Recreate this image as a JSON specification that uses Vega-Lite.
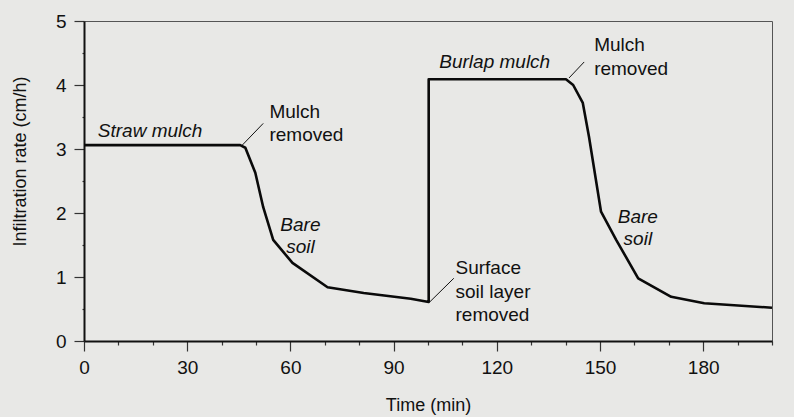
{
  "$schema": "https://vega.github.io/schema/vega-lite/v6.json",
  "width": 688,
  "height": 320,
  "autosize": "none",
  "padding": {"left": 84, "top": 21, "right": 22, "bottom": 76},
  "background": "#e8e8e6",
  "config": {
    "view": {"stroke": "#555555", "strokeWidth": 1},
    "font": "Liberation Sans",
    "axis": {
      "domainColor": "#111111",
      "domainWidth": 2,
      "tickColor": "#333333",
      "tickWidth": 1.2,
      "labelColor": "#111111",
      "titleColor": "#111111",
      "labelFontSize": 19,
      "titleFontSize": 18,
      "titleFontWeight": "normal",
      "grid": false
    }
  },
  "datasets": {
    "curve": [
      {"x": 0, "y": 3.06, "ord": 1},
      {"x": 45.4, "y": 3.06, "ord": 2},
      {"x": 46.9, "y": 3.02, "ord": 3},
      {"x": 49.8, "y": 2.63, "ord": 4},
      {"x": 52.1, "y": 2.09, "ord": 5},
      {"x": 55, "y": 1.58, "ord": 6},
      {"x": 60.6, "y": 1.22, "ord": 7},
      {"x": 70.8, "y": 0.84, "ord": 8},
      {"x": 81.3, "y": 0.75, "ord": 9},
      {"x": 95, "y": 0.66, "ord": 10},
      {"x": 100.2, "y": 0.61, "ord": 11},
      {"x": 100.2, "y": 4.09, "ord": 12},
      {"x": 140.1, "y": 4.09, "ord": 13},
      {"x": 142.2, "y": 4.0, "ord": 14},
      {"x": 145, "y": 3.72, "ord": 15},
      {"x": 146.8, "y": 3.19, "ord": 16},
      {"x": 150.3, "y": 2.02, "ord": 17},
      {"x": 154.7, "y": 1.58, "ord": 18},
      {"x": 161.1, "y": 0.98, "ord": 19},
      {"x": 170.7, "y": 0.69, "ord": 20},
      {"x": 180.3, "y": 0.59, "ord": 21},
      {"x": 200, "y": 0.52, "ord": 22}
    ],
    "leaders": [
      {"x": 46, "y": 3.06, "x2": 52.1, "y2": 3.4},
      {"x": 141, "y": 4.11, "x2": 145.4, "y2": 4.36},
      {"x": 100.5, "y": 0.61, "x2": 107.5, "y2": 0.98}
    ],
    "italicLabels": [
      {"x": 19.2, "y": 3.28, "label": "Straw mulch"},
      {"x": 62.9, "y": 1.81, "label": "Bare\nsoil"},
      {"x": 119.4, "y": 4.36, "label": "Burlap mulch"},
      {"x": 161, "y": 1.94, "label": "Bare\nsoil"}
    ],
    "plainLabels": [
      {"x": 53.9, "y": 3.58, "label": "Mulch\nremoved"},
      {"x": 148.3, "y": 4.62, "label": "Mulch\nremoved"},
      {"x": 108, "y": 1.14, "label": "Surface\nsoil layer\nremoved"}
    ]
  },
  "encoding": {
    "x": {
      "field": "x",
      "type": "quantitative",
      "scale": {"domain": [0, 200], "nice": false},
      "axis": {
        "title": "Time (min)",
        "values": [0, 10, 20, 30, 40, 50, 60, 70, 80, 90, 100, 110, 120, 130, 140, 150, 160, 170, 180, 190, 200],
        "labelExpr": "datum.value % 30 === 0 && datum.value <= 180 ? format(datum.value, 'd') : ''",
        "tickSize": {"condition": {"test": "datum.value % 30 === 0 && datum.value <= 180", "value": 10}, "value": 4},
        "labelPadding": 7,
        "labelFlush": false,
        "labelOverlap": false,
        "labelBound": false,
        "titleY": 64,
        "titleBaseline": "middle"
      }
    },
    "y": {
      "field": "y",
      "type": "quantitative",
      "scale": {"domain": [0, 5], "nice": false},
      "axis": {
        "title": "Infiltration rate (cm/h)",
        "values": [0, 0.5, 1, 1.5, 2, 2.5, 3, 3.5, 4, 4.5, 5],
        "labelExpr": "datum.value % 1 === 0 ? format(datum.value, 'd') : ''",
        "tickSize": {"condition": {"test": "datum.value % 1 === 0", "value": 10}, "value": 2},
        "labelPadding": 8,
        "labelFlush": false,
        "labelOverlap": false,
        "titleX": -64,
        "titleY": 140,
        "titleAlign": "center",
        "titleBaseline": "middle"
      }
    }
  },
  "layer": [
    {
      "data": {"name": "curve"},
      "mark": {"type": "line", "color": "#0a0a0a", "strokeWidth": 2.6, "strokeJoin": "round"},
      "encoding": {
        "order": {"field": "ord", "type": "quantitative"}
      }
    },
    {
      "data": {"name": "leaders"},
      "mark": {"type": "rule", "color": "#111111", "strokeWidth": 1},
      "encoding": {
        "x2": {"field": "x2"},
        "y2": {"field": "y2"}
      }
    },
    {
      "data": {"name": "italicLabels"},
      "mark": {"type": "text", "fontStyle": "italic", "fontSize": 19, "align": "center", "baseline": "middle", "lineBreak": "\n", "lineHeight": 22, "color": "#111111"},
      "encoding": {
        "text": {"field": "label"}
      }
    },
    {
      "data": {"name": "plainLabels"},
      "mark": {"type": "text", "fontSize": 19, "align": "left", "baseline": "middle", "lineBreak": "\n", "lineHeight": 23.5, "color": "#111111"},
      "encoding": {
        "text": {"field": "label"}
      }
    }
  ]
}
